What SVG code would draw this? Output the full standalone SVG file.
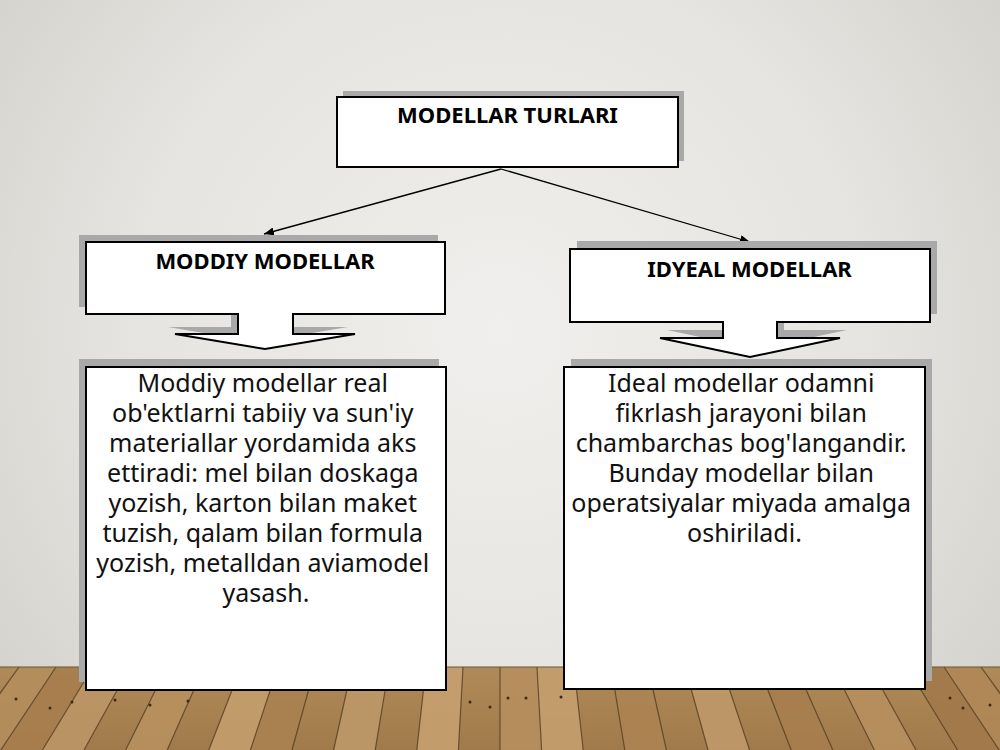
<svg xmlns="http://www.w3.org/2000/svg" width="1000" height="750" viewBox="0 0 1000 750">
  <defs>
    <radialGradient id="wall" cx="500" cy="330" r="620" gradientUnits="userSpaceOnUse">
      <stop offset="0" stop-color="#f0efed"/>
      <stop offset="0.6" stop-color="#e6e4e0"/>
      <stop offset="1" stop-color="#d4d2cd"/>
    </radialGradient>
    <linearGradient id="floor" x1="0" y1="667" x2="0" y2="750" gradientUnits="userSpaceOnUse">
      <stop offset="0" stop-color="#b08a58"/>
      <stop offset="1" stop-color="#a07a4a"/>
    </linearGradient>
    <marker id="arr" viewBox="0 0 10 8" refX="10" refY="4" markerWidth="10" markerHeight="8" markerUnits="userSpaceOnUse" orient="auto">
      <path d="M0,0 L10,4 L0,8 Z" fill="#000"/>
    </marker>
    <style>
      .shadow { fill: #a9a9a9; }
      .box { fill: #ffffff; stroke: #000000; stroke-width: 2; }
      .head { font-family: "Noto Sans", "Open Sans", sans-serif; font-weight: bold; font-size: 22px; fill: #000; text-anchor: middle; }
      .body { font-family: "Noto Sans", "Open Sans", sans-serif; font-size: 25px; fill: #111; text-anchor: middle; }
      .conn { stroke: #000; stroke-width: 1.3; fill: none; }
      .plank { stroke: #4e3822; stroke-width: 1.2; stroke-opacity: 0.75; }
      .nail { fill: #3a2a18; }
    </style>
  </defs>

  <!-- background -->
  <g id="background">
    <rect x="0" y="0" width="1000" height="667" fill="url(#wall)"/>
    <rect x="0" y="667" width="1000" height="83" fill="url(#floor)"/>
    <g opacity="0.9">
      <polygon points="-55,667 -18,667 -82.4,750 -124,750" fill="#a07849"/>
      <polygon points="19,667 56,667 0.8,750 -40.8,750" fill="#b48e5d"/>
      <polygon points="56,667 93,667 42.4,750 0.8,750" fill="#a87e4e"/>
      <polygon points="93,667 130,667 84,750 42.4,750" fill="#bc9666"/>
      <polygon points="167,667 204,667 167.2,750 125.6,750" fill="#b8915f"/>
      <polygon points="241,667 278,667 250.4,750 208.8,750" fill="#c49e6d"/>
      <polygon points="278,667 315,667 292,750 250.4,750" fill="#aa8150"/>
      <polygon points="352,667 389,667 375.2,750 333.6,750" fill="#bd9868"/>
      <polygon points="426,667 463,667 458.4,750 416.8,750" fill="#c6a06f"/>
      <polygon points="500,667 537,667 541.6,750 500,750" fill="#b78f5e"/>
      <polygon points="537,667 574,667 583.2,750 541.6,750" fill="#c59f6e"/>
      <polygon points="611,667 648,667 666.4,750 624.8,750" fill="#ad8352"/>
      <polygon points="685,667 722,667 749.6,750 708,750" fill="#bf9969"/>
      <polygon points="759,667 796,667 832.8,750 791.2,750" fill="#a87e4e"/>
      <polygon points="833,667 870,667 916,750 874.4,750" fill="#b89060"/>
      <polygon points="907,667 944,667 999.2,750 957.6,750" fill="#a2794b"/>
      <polygon points="944,667 981,667 1040.8,750 999.2,750" fill="#b18857"/>
    </g>
    <g class="plank">
      <line x1="-18" y1="667" x2="-82.4" y2="750"/>
      <line x1="19" y1="667" x2="-40.8" y2="750"/>
      <line x1="56" y1="667" x2="0.8" y2="750"/>
      <line x1="93" y1="667" x2="42.4" y2="750"/>
      <line x1="130" y1="667" x2="84" y2="750"/>
      <line x1="167" y1="667" x2="125.6" y2="750"/>
      <line x1="204" y1="667" x2="167.2" y2="750"/>
      <line x1="241" y1="667" x2="208.8" y2="750"/>
      <line x1="278" y1="667" x2="250.4" y2="750"/>
      <line x1="315" y1="667" x2="292" y2="750"/>
      <line x1="352" y1="667" x2="333.6" y2="750"/>
      <line x1="389" y1="667" x2="375.2" y2="750"/>
      <line x1="426" y1="667" x2="416.8" y2="750"/>
      <line x1="463" y1="667" x2="458.4" y2="750"/>
      <line x1="500" y1="667" x2="500" y2="750"/>
      <line x1="537" y1="667" x2="541.6" y2="750"/>
      <line x1="574" y1="667" x2="583.2" y2="750"/>
      <line x1="611" y1="667" x2="624.8" y2="750"/>
      <line x1="648" y1="667" x2="666.4" y2="750"/>
      <line x1="685" y1="667" x2="708" y2="750"/>
      <line x1="722" y1="667" x2="749.6" y2="750"/>
      <line x1="759" y1="667" x2="791.2" y2="750"/>
      <line x1="796" y1="667" x2="832.8" y2="750"/>
      <line x1="833" y1="667" x2="874.4" y2="750"/>
      <line x1="870" y1="667" x2="916" y2="750"/>
      <line x1="907" y1="667" x2="957.6" y2="750"/>
      <line x1="944" y1="667" x2="999.2" y2="750"/>
      <line x1="981" y1="667" x2="1040.8" y2="750"/>
    </g>
    <g class="nail">
      <circle cx="16" cy="699" r="1.5"/><circle cx="50" cy="708" r="1.5"/><circle cx="72" cy="702" r="1.5"/>
      <circle cx="115" cy="700" r="1.5"/><circle cx="150" cy="705" r="1.5"/><circle cx="188" cy="701" r="1.5"/>
      <circle cx="470" cy="702" r="1.5"/><circle cx="490" cy="707" r="1.5"/><circle cx="508" cy="698" r="1.5"/>
      <circle cx="526" cy="698" r="1.5"/><circle cx="561" cy="697" r="1.5"/><circle cx="950" cy="698" r="1.5"/>
      <circle cx="963" cy="708" r="1.5"/><circle cx="990" cy="705" r="1.5"/>
    </g>
    <line x1="0" y1="667" x2="1000" y2="667" stroke="#6b5236" stroke-width="1"/>
  </g>

  <!-- connectors -->
  <g id="connectors">
    <line class="conn" x1="501" y1="169" x2="264" y2="234" marker-end="url(#arr)"/>
    <line class="conn" x1="501" y1="169" x2="750" y2="242" marker-end="url(#arr)"/>
  </g>

  <!-- top node -->
  <g id="node-modellar-turlari">
    <rect class="shadow" x="343" y="91" width="341" height="70"/>
    <rect class="box" x="337" y="97" width="341" height="70"/>
    <text class="head" x="507.5" y="123">MODELLAR TURLARI</text>
  </g>

  <!-- moddiy header -->
  <g id="node-moddiy">
    <polygon class="shadow" transform="translate(-7,-7)" points="86,242 445,242 445,314 293,314 293,334 355,334 265,349 175,334 238,334 238,314 86,314"/>
    <polygon class="box" points="86,242 445,242 445,314 293,314 293,334 355,334 265,349 175,334 238,334 238,314 86,314"/>
    <text class="head" x="265" y="269">MODDIY MODELLAR</text>
  </g>

  <!-- idyeal header -->
  <g id="node-idyeal">
    <polygon class="shadow" transform="translate(7,-8)" points="570,249 930,249 930,322 777,322 777,338 840,338 750,357 660,338 723,338 723,322 570,322"/>
    <polygon class="box" points="570,249 930,249 930,322 777,322 777,338 840,338 750,357 660,338 723,338 723,322 570,322"/>
    <text class="head" x="749.5" y="277">IDYEAL MODELLAR</text>
  </g>

  <!-- moddiy description -->
  <g id="node-moddiy-text">
    <rect class="shadow" x="79" y="359" width="360" height="323"/>
    <rect class="box" x="86" y="367" width="360" height="323"/>
    <text class="body" x="266">
      <tspan x="266" y="392">Moddiy modellar real</tspan>
      <tspan x="266" y="422">ob'ektlarni tabiiy va sun'iy</tspan>
      <tspan x="266" y="452">materiallar yordamida aks</tspan>
      <tspan x="266" y="482">ettiradi: mel bilan doskaga</tspan>
      <tspan x="266" y="512">yozish, karton bilan maket</tspan>
      <tspan x="266" y="542">tuzish, qalam bilan formula</tspan>
      <tspan x="266" y="572">yozish, metalldan aviamodel</tspan>
      <tspan x="266" y="602">yasash.</tspan>
    </text>
  </g>

  <!-- idyeal description -->
  <g id="node-idyeal-text">
    <rect class="shadow" x="571" y="359" width="361" height="322"/>
    <rect class="box" x="564" y="367" width="361" height="322"/>
    <text class="body" x="744.5">
      <tspan x="744.5" y="392">Ideal modellar odamni</tspan>
      <tspan x="744.5" y="422">fikrlash jarayoni bilan</tspan>
      <tspan x="744.5" y="452">chambarchas bog'langandir.</tspan>
      <tspan x="744.5" y="482">Bunday modellar bilan</tspan>
      <tspan x="744.5" y="512">operatsiyalar miyada amalga</tspan>
      <tspan x="744.5" y="542">oshiriladi.</tspan>
    </text>
  </g>
</svg>
